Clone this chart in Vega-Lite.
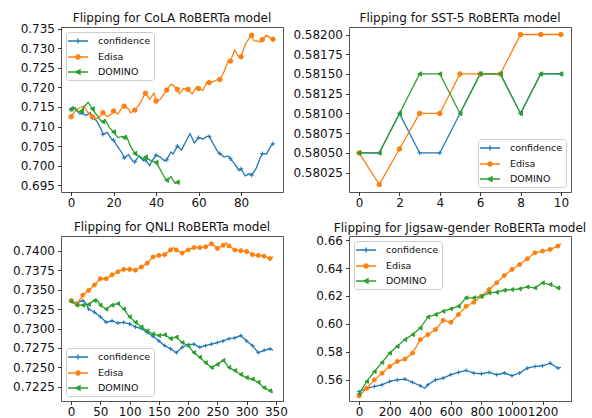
{
  "$schema": "https://vega.github.io/schema/vega-lite/v6.json",
  "padding": {"left": 12, "top": 11, "right": 0, "bottom": 0},
  "autosize": {"type": "pad"},
  "columns": 2,
  "spacing": {"column": 3, "row": 11},
  "config": {
    "font": "DejaVu Sans",
    "background": "white",
    "view": {"stroke": "#555", "strokeWidth": 1},
    "axis": {"grid": false, "domain": false, "tickColor": "#222", "tickSize": 3.5, "tickWidth": 0.9, "labelFontSize": 12, "labelColor": "#111", "labelFont": "DejaVu Sans", "labelFlush": false, "labelOverlap": false},
    "axisX": {"labelPadding": 1.5, "format": "d"},
    "axisY": {"labelPadding": 3},
    "title": {"fontSize": 12, "fontWeight": "normal", "font": "DejaVu Sans", "color": "#111", "anchor": "middle"},
    "legend": {"title": null, "fillColor": "rgba(255,255,255,0.85)", "strokeColor": "#cccccc", "cornerRadius": 3, "padding": 3, "labelFontSize": 9.5, "labelFont": "DejaVu Sans", "labelColor": "#111", "symbolSize": 100, "symbolStrokeWidth": 1.3, "symbolOffset": 3, "labelOffset": 14, "rowPadding": 4, "offset": 5}
  },
  "datasets": {
    "cola": [
      {"m":"confidence","x":0,"y":0.7142},{"m":"confidence","x":2,"y":0.7148},{"m":"confidence","x":4,"y":0.7132},{"m":"confidence","x":5,"y":0.7135},{"m":"confidence","x":7,"y":0.7128},{"m":"confidence","x":9,"y":0.7135},{"m":"confidence","x":10,"y":0.7122},{"m":"confidence","x":12,"y":0.7115},{"m":"confidence","x":14,"y":0.7095},{"m":"confidence","x":15,"y":0.7080},{"m":"confidence","x":17,"y":0.7085},{"m":"confidence","x":19,"y":0.7068},{"m":"confidence","x":20,"y":0.7065},{"m":"confidence","x":22,"y":0.7048},{"m":"confidence","x":24,"y":0.7032},{"m":"confidence","x":25,"y":0.7020},{"m":"confidence","x":27,"y":0.7028},{"m":"confidence","x":29,"y":0.7012},{"m":"confidence","x":30,"y":0.7010},{"m":"confidence","x":32,"y":0.7025},{"m":"confidence","x":34,"y":0.7013},{"m":"confidence","x":35,"y":0.7015},{"m":"confidence","x":37,"y":0.7000},{"m":"confidence","x":38,"y":0.7012},{"m":"confidence","x":40,"y":0.7027},{"m":"confidence","x":42,"y":0.7022},{"m":"confidence","x":44,"y":0.7012},{"m":"confidence","x":45,"y":0.7015},{"m":"confidence","x":47,"y":0.7035},{"m":"confidence","x":48,"y":0.7030},{"m":"confidence","x":50,"y":0.7050},{"m":"confidence","x":52,"y":0.7040},{"m":"confidence","x":54,"y":0.7062},{"m":"confidence","x":56,"y":0.7082},{"m":"confidence","x":58,"y":0.7058},{"m":"confidence","x":60,"y":0.7072},{"m":"confidence","x":62,"y":0.7068},{"m":"confidence","x":64,"y":0.7075},{"m":"confidence","x":65,"y":0.7075},{"m":"confidence","x":67,"y":0.7055},{"m":"confidence","x":69,"y":0.7036},{"m":"confidence","x":70,"y":0.7031},{"m":"confidence","x":72,"y":0.7022},{"m":"confidence","x":74,"y":0.7025},{"m":"confidence","x":75,"y":0.7018},{"m":"confidence","x":77,"y":0.7005},{"m":"confidence","x":79,"y":0.6988},{"m":"confidence","x":80,"y":0.6992},{"m":"confidence","x":82,"y":0.6974},{"m":"confidence","x":84,"y":0.6980},{"m":"confidence","x":85,"y":0.6976},{"m":"confidence","x":87,"y":0.6992},{"m":"confidence","x":89,"y":0.7020},{"m":"confidence","x":90,"y":0.7031},{"m":"confidence","x":92,"y":0.7030},{"m":"confidence","x":94,"y":0.7050},{"m":"confidence","x":95,"y":0.7056},
      {"m":"Edisa","x":0,"y":0.7125},{"m":"Edisa","x":2,"y":0.7140},{"m":"Edisa","x":4,"y":0.7148},{"m":"Edisa","x":6,"y":0.7152},{"m":"Edisa","x":8,"y":0.7135},{"m":"Edisa","x":10,"y":0.7125},{"m":"Edisa","x":12,"y":0.7120},{"m":"Edisa","x":14,"y":0.7128},{"m":"Edisa","x":15,"y":0.7135},{"m":"Edisa","x":17,"y":0.7125},{"m":"Edisa","x":19,"y":0.7132},{"m":"Edisa","x":20,"y":0.7140},{"m":"Edisa","x":22,"y":0.7132},{"m":"Edisa","x":24,"y":0.7148},{"m":"Edisa","x":25,"y":0.7152},{"m":"Edisa","x":27,"y":0.7145},{"m":"Edisa","x":28,"y":0.7135},{"m":"Edisa","x":30,"y":0.7142},{"m":"Edisa","x":32,"y":0.7155},{"m":"Edisa","x":34,"y":0.7175},{"m":"Edisa","x":35,"y":0.7185},{"m":"Edisa","x":37,"y":0.7170},{"m":"Edisa","x":39,"y":0.7185},{"m":"Edisa","x":40,"y":0.7165},{"m":"Edisa","x":42,"y":0.7170},{"m":"Edisa","x":44,"y":0.7185},{"m":"Edisa","x":45,"y":0.7193},{"m":"Edisa","x":47,"y":0.7208},{"m":"Edisa","x":48,"y":0.7205},{"m":"Edisa","x":50,"y":0.7195},{"m":"Edisa","x":51,"y":0.7184},{"m":"Edisa","x":53,"y":0.7197},{"m":"Edisa","x":55,"y":0.7195},{"m":"Edisa","x":57,"y":0.7183},{"m":"Edisa","x":59,"y":0.7201},{"m":"Edisa","x":60,"y":0.7197},{"m":"Edisa","x":62,"y":0.7192},{"m":"Edisa","x":64,"y":0.7214},{"m":"Edisa","x":65,"y":0.7212},{"m":"Edisa","x":67,"y":0.7215},{"m":"Edisa","x":69,"y":0.7220},{"m":"Edisa","x":70,"y":0.7220},{"m":"Edisa","x":72,"y":0.7240},{"m":"Edisa","x":74,"y":0.7268},{"m":"Edisa","x":75,"y":0.7267},{"m":"Edisa","x":77,"y":0.7295},{"m":"Edisa","x":79,"y":0.7278},{"m":"Edisa","x":80,"y":0.7278},{"m":"Edisa","x":82,"y":0.7310},{"m":"Edisa","x":84,"y":0.7327},{"m":"Edisa","x":85,"y":0.7333},{"m":"Edisa","x":86,"y":0.7319},{"m":"Edisa","x":88,"y":0.7318},{"m":"Edisa","x":89,"y":0.7316},{"m":"Edisa","x":90,"y":0.7322},{"m":"Edisa","x":92,"y":0.7333},{"m":"Edisa","x":94,"y":0.7325},{"m":"Edisa","x":95,"y":0.7323},
      {"m":"DOMINO","x":0,"y":0.7145},{"m":"DOMINO","x":1,"y":0.7150},{"m":"DOMINO","x":3,"y":0.7138},{"m":"DOMINO","x":5,"y":0.7140},{"m":"DOMINO","x":6,"y":0.7150},{"m":"DOMINO","x":8,"y":0.7162},{"m":"DOMINO","x":10,"y":0.7145},{"m":"DOMINO","x":12,"y":0.7130},{"m":"DOMINO","x":14,"y":0.7115},{"m":"DOMINO","x":15,"y":0.7112},{"m":"DOMINO","x":16,"y":0.7118},{"m":"DOMINO","x":18,"y":0.7098},{"m":"DOMINO","x":20,"y":0.7086},{"m":"DOMINO","x":22,"y":0.7072},{"m":"DOMINO","x":24,"y":0.7075},{"m":"DOMINO","x":25,"y":0.7072},{"m":"DOMINO","x":26,"y":0.7076},{"m":"DOMINO","x":28,"y":0.7050},{"m":"DOMINO","x":30,"y":0.7031},{"m":"DOMINO","x":32,"y":0.7025},{"m":"DOMINO","x":34,"y":0.7018},{"m":"DOMINO","x":35,"y":0.7022},{"m":"DOMINO","x":36,"y":0.7018},{"m":"DOMINO","x":38,"y":0.7012},{"m":"DOMINO","x":40,"y":0.7008},{"m":"DOMINO","x":42,"y":0.6990},{"m":"DOMINO","x":44,"y":0.6970},{"m":"DOMINO","x":45,"y":0.6963},{"m":"DOMINO","x":47,"y":0.6972},{"m":"DOMINO","x":49,"y":0.6955},{"m":"DOMINO","x":50,"y":0.6958}
    ],
    "sst": [
      {"m":"confidence","x":0,"y":0.5805},{"m":"confidence","x":1,"y":0.5805},{"m":"confidence","x":2,"y":0.5810},{"m":"confidence","x":3,"y":0.5805},{"m":"confidence","x":4,"y":0.5805},{"m":"confidence","x":5,"y":0.5810},{"m":"confidence","x":6,"y":0.5815},{"m":"confidence","x":7,"y":0.5815},{"m":"confidence","x":8,"y":0.5810},{"m":"confidence","x":9,"y":0.5815},{"m":"confidence","x":10,"y":0.5815},
      {"m":"Edisa","x":0,"y":0.5805},{"m":"Edisa","x":1,"y":0.5801},{"m":"Edisa","x":2,"y":0.58055},{"m":"Edisa","x":3,"y":0.5810},{"m":"Edisa","x":4,"y":0.5810},{"m":"Edisa","x":5,"y":0.5815},{"m":"Edisa","x":6,"y":0.5815},{"m":"Edisa","x":7,"y":0.5815},{"m":"Edisa","x":8,"y":0.5820},{"m":"Edisa","x":9,"y":0.5820},{"m":"Edisa","x":10,"y":0.5820},
      {"m":"DOMINO","x":0,"y":0.5805},{"m":"DOMINO","x":1,"y":0.5805},{"m":"DOMINO","x":2,"y":0.5810},{"m":"DOMINO","x":3,"y":0.5815},{"m":"DOMINO","x":4,"y":0.5815},{"m":"DOMINO","x":5,"y":0.5810},{"m":"DOMINO","x":6,"y":0.5815},{"m":"DOMINO","x":7,"y":0.5815},{"m":"DOMINO","x":8,"y":0.5810},{"m":"DOMINO","x":9,"y":0.5815},{"m":"DOMINO","x":10,"y":0.5815}
    ],
    "qnli": [
      {"m":"confidence","x":0,"y":0.7335},{"m":"confidence","x":10,"y":0.7333},{"m":"confidence","x":20,"y":0.7336},{"m":"confidence","x":25,"y":0.7333},{"m":"confidence","x":30,"y":0.7325},{"m":"confidence","x":40,"y":0.7321},{"m":"confidence","x":50,"y":0.7315},{"m":"confidence","x":60,"y":0.7308},{"m":"confidence","x":70,"y":0.7310},{"m":"confidence","x":80,"y":0.7307},{"m":"confidence","x":90,"y":0.7308},{"m":"confidence","x":100,"y":0.7306},{"m":"confidence","x":110,"y":0.7302},{"m":"confidence","x":120,"y":0.7300},{"m":"confidence","x":130,"y":0.7295},{"m":"confidence","x":140,"y":0.7290},{"m":"confidence","x":150,"y":0.7284},{"m":"confidence","x":160,"y":0.7278},{"m":"confidence","x":170,"y":0.7274},{"m":"confidence","x":180,"y":0.7269},{"m":"confidence","x":190,"y":0.7276},{"m":"confidence","x":200,"y":0.7279},{"m":"confidence","x":210,"y":0.7280},{"m":"confidence","x":220,"y":0.7276},{"m":"confidence","x":230,"y":0.7278},{"m":"confidence","x":240,"y":0.7280},{"m":"confidence","x":250,"y":0.7282},{"m":"confidence","x":260,"y":0.7284},{"m":"confidence","x":270,"y":0.7287},{"m":"confidence","x":280,"y":0.7288},{"m":"confidence","x":290,"y":0.7291},{"m":"confidence","x":300,"y":0.7284},{"m":"confidence","x":310,"y":0.7278},{"m":"confidence","x":320,"y":0.7269},{"m":"confidence","x":330,"y":0.7272},{"m":"confidence","x":340,"y":0.7274},{"m":"confidence","x":345,"y":0.7272},
      {"m":"Edisa","x":0,"y":0.7336},{"m":"Edisa","x":10,"y":0.7331},{"m":"Edisa","x":20,"y":0.7343},{"m":"Edisa","x":30,"y":0.7349},{"m":"Edisa","x":40,"y":0.7356},{"m":"Edisa","x":50,"y":0.7364},{"m":"Edisa","x":60,"y":0.7364},{"m":"Edisa","x":70,"y":0.7369},{"m":"Edisa","x":80,"y":0.7373},{"m":"Edisa","x":90,"y":0.7376},{"m":"Edisa","x":100,"y":0.7376},{"m":"Edisa","x":110,"y":0.7375},{"m":"Edisa","x":120,"y":0.7379},{"m":"Edisa","x":130,"y":0.7384},{"m":"Edisa","x":140,"y":0.7392},{"m":"Edisa","x":150,"y":0.7394},{"m":"Edisa","x":160,"y":0.7395},{"m":"Edisa","x":170,"y":0.7401},{"m":"Edisa","x":175,"y":0.7404},{"m":"Edisa","x":180,"y":0.7401},{"m":"Edisa","x":190,"y":0.7397},{"m":"Edisa","x":200,"y":0.7401},{"m":"Edisa","x":210,"y":0.7404},{"m":"Edisa","x":220,"y":0.7404},{"m":"Edisa","x":230,"y":0.7405},{"m":"Edisa","x":240,"y":0.7409},{"m":"Edisa","x":250,"y":0.7403},{"m":"Edisa","x":260,"y":0.7407},{"m":"Edisa","x":265,"y":0.7410},{"m":"Edisa","x":270,"y":0.7406},{"m":"Edisa","x":280,"y":0.7401},{"m":"Edisa","x":290,"y":0.7400},{"m":"Edisa","x":300,"y":0.7399},{"m":"Edisa","x":310,"y":0.7395},{"m":"Edisa","x":320,"y":0.7394},{"m":"Edisa","x":330,"y":0.7393},{"m":"Edisa","x":340,"y":0.7390},{"m":"Edisa","x":345,"y":0.7392},
      {"m":"DOMINO","x":0,"y":0.7335},{"m":"DOMINO","x":10,"y":0.7330},{"m":"DOMINO","x":20,"y":0.7330},{"m":"DOMINO","x":30,"y":0.7331},{"m":"DOMINO","x":40,"y":0.7336},{"m":"DOMINO","x":45,"y":0.7336},{"m":"DOMINO","x":50,"y":0.7330},{"m":"DOMINO","x":60,"y":0.7325},{"m":"DOMINO","x":70,"y":0.7330},{"m":"DOMINO","x":80,"y":0.7332},{"m":"DOMINO","x":90,"y":0.7325},{"m":"DOMINO","x":100,"y":0.7315},{"m":"DOMINO","x":110,"y":0.7308},{"m":"DOMINO","x":120,"y":0.7302},{"m":"DOMINO","x":130,"y":0.7297},{"m":"DOMINO","x":140,"y":0.7293},{"m":"DOMINO","x":150,"y":0.7291},{"m":"DOMINO","x":160,"y":0.7292},{"m":"DOMINO","x":170,"y":0.7287},{"m":"DOMINO","x":180,"y":0.7289},{"m":"DOMINO","x":190,"y":0.7282},{"m":"DOMINO","x":200,"y":0.7278},{"m":"DOMINO","x":210,"y":0.7269},{"m":"DOMINO","x":220,"y":0.7263},{"m":"DOMINO","x":230,"y":0.7256},{"m":"DOMINO","x":240,"y":0.7250},{"m":"DOMINO","x":250,"y":0.7254},{"m":"DOMINO","x":260,"y":0.7259},{"m":"DOMINO","x":270,"y":0.7250},{"m":"DOMINO","x":280,"y":0.7246},{"m":"DOMINO","x":290,"y":0.7241},{"m":"DOMINO","x":300,"y":0.7237},{"m":"DOMINO","x":310,"y":0.7235},{"m":"DOMINO","x":320,"y":0.7231},{"m":"DOMINO","x":330,"y":0.7224},{"m":"DOMINO","x":340,"y":0.7220},{"m":"DOMINO","x":345,"y":0.7218}
    ],
    "jig": [
      {"m":"confidence","x":0,"y":0.5517},{"m":"confidence","x":50,"y":0.5540},{"m":"confidence","x":100,"y":0.5553},{"m":"confidence","x":150,"y":0.5565},{"m":"confidence","x":200,"y":0.5589},{"m":"confidence","x":250,"y":0.5600},{"m":"confidence","x":300,"y":0.5606},{"m":"confidence","x":350,"y":0.5582},{"m":"confidence","x":400,"y":0.5558},{"m":"confidence","x":430,"y":0.5540},{"m":"confidence","x":450,"y":0.5565},{"m":"confidence","x":500,"y":0.5600},{"m":"confidence","x":550,"y":0.5613},{"m":"confidence","x":600,"y":0.5637},{"m":"confidence","x":650,"y":0.5654},{"m":"confidence","x":700,"y":0.5668},{"m":"confidence","x":750,"y":0.5649},{"m":"confidence","x":800,"y":0.5644},{"m":"confidence","x":850,"y":0.5654},{"m":"confidence","x":900,"y":0.5637},{"m":"confidence","x":950,"y":0.5649},{"m":"confidence","x":1000,"y":0.5630},{"m":"confidence","x":1050,"y":0.5649},{"m":"confidence","x":1100,"y":0.5684},{"m":"confidence","x":1150,"y":0.5696},{"m":"confidence","x":1200,"y":0.5701},{"m":"confidence","x":1250,"y":0.5720},{"m":"confidence","x":1300,"y":0.5684},{"m":"confidence","x":1320,"y":0.5689},
      {"m":"Edisa","x":0,"y":0.5485},{"m":"Edisa","x":50,"y":0.5540},{"m":"Edisa","x":100,"y":0.5600},{"m":"Edisa","x":150,"y":0.5648},{"m":"Edisa","x":200,"y":0.5696},{"m":"Edisa","x":250,"y":0.5732},{"m":"Edisa","x":300,"y":0.5749},{"m":"Edisa","x":350,"y":0.5792},{"m":"Edisa","x":400,"y":0.5888},{"m":"Edisa","x":450,"y":0.5924},{"m":"Edisa","x":500,"y":0.5960},{"m":"Edisa","x":550,"y":0.6026},{"m":"Edisa","x":600,"y":0.6012},{"m":"Edisa","x":650,"y":0.6067},{"m":"Edisa","x":700,"y":0.6127},{"m":"Edisa","x":750,"y":0.6155},{"m":"Edisa","x":800,"y":0.6198},{"m":"Edisa","x":850,"y":0.6246},{"m":"Edisa","x":900,"y":0.6294},{"m":"Edisa","x":950,"y":0.6347},{"m":"Edisa","x":1000,"y":0.6390},{"m":"Edisa","x":1050,"y":0.6425},{"m":"Edisa","x":1100,"y":0.6466},{"m":"Edisa","x":1150,"y":0.6509},{"m":"Edisa","x":1200,"y":0.6521},{"m":"Edisa","x":1250,"y":0.6533},{"m":"Edisa","x":1300,"y":0.6557},{"m":"Edisa","x":1320,"y":0.6574},
      {"m":"DOMINO","x":0,"y":0.5500},{"m":"DOMINO","x":50,"y":0.5589},{"m":"DOMINO","x":100,"y":0.5660},{"m":"DOMINO","x":150,"y":0.5725},{"m":"DOMINO","x":200,"y":0.5792},{"m":"DOMINO","x":250,"y":0.5840},{"m":"DOMINO","x":300,"y":0.5888},{"m":"DOMINO","x":350,"y":0.5924},{"m":"DOMINO","x":400,"y":0.5971},{"m":"DOMINO","x":450,"y":0.6050},{"m":"DOMINO","x":500,"y":0.6067},{"m":"DOMINO","x":550,"y":0.6091},{"m":"DOMINO","x":600,"y":0.6108},{"m":"DOMINO","x":650,"y":0.6127},{"m":"DOMINO","x":700,"y":0.6187},{"m":"DOMINO","x":750,"y":0.6187},{"m":"DOMINO","x":800,"y":0.6198},{"m":"DOMINO","x":850,"y":0.6222},{"m":"DOMINO","x":900,"y":0.6227},{"m":"DOMINO","x":950,"y":0.6241},{"m":"DOMINO","x":1000,"y":0.6246},{"m":"DOMINO","x":1050,"y":0.6251},{"m":"DOMINO","x":1100,"y":0.6265},{"m":"DOMINO","x":1150,"y":0.6258},{"m":"DOMINO","x":1200,"y":0.6294},{"m":"DOMINO","x":1250,"y":0.6282},{"m":"DOMINO","x":1300,"y":0.6258},{"m":"DOMINO","x":1320,"y":0.6258}
    ]
  },
  "concat": [
    {
      "width": 222, "height": 165,
      "title": {"text": "Flipping for CoLA RoBERTa model", "offset": -2.8},
      "data": {"name": "cola"},
      "encoding": {
        "x": {"field": "x", "type": "quantitative", "title": null, "scale": {"domain": [-4.75, 99.75], "nice": false, "zero": false}, "axis": {"values": [0, 20, 40, 60, 80]}},
        "y": {"field": "y", "type": "quantitative", "title": null, "scale": {"domain": [0.6933, 0.7354], "nice": false, "zero": false}, "axis": {"values": [0.695, 0.700, 0.705, 0.710, 0.715, 0.720, 0.725, 0.730, 0.735], "format": ".3f", "minExtent": 47, "maxExtent": 47}}
      },
      "layer": [
        {"mark": {"type": "line", "strokeWidth": 1.3}, "encoding": {"color": {"field": "m", "type": "nominal", "scale": {"domain": ["confidence", "Edisa", "DOMINO"], "range": ["#1f77b4", "#ff7f0e", "#2ca02c"]}, "legend": {"orient": "top-left", "offset": 5, "encode": {"symbols": {"update": {"shape": {"signal": "datum.value === 'confidence' ? 'M-2,0H2M0,-0.5V0.5M-0.5,0H0.5' : datum.value === 'Edisa' ? 'M-2,0H2M-0.4,0A0.4,0.4,0,1,1,0.4,0A0.4,0.4,0,1,1,-0.4,0Z' : 'M-2,0H2M-0.5,0L0.4,-0.45L0.4,0.45Z'"}, "fill": {"signal": "datum.value === 'confidence' ? 'transparent' : datum.value === 'Edisa' ? '#ff7f0e' : '#2ca02c'"}, "stroke": {"signal": "datum.value === 'confidence' ? '#1f77b4' : datum.value === 'Edisa' ? '#ff7f0e' : '#2ca02c'"}, "opacity": {"value": 1}}}}}}}},
        {"transform": [{"filter": "datum.x % 5 == 0"}], "mark": {"type": "point", "size": 20, "strokeWidth": 1, "opacity": 1}, "encoding": {
          "fill": {"field": "m", "type": "nominal", "scale": {"domain": ["confidence", "Edisa", "DOMINO"], "range": ["#1f77b4", "#ff7f0e", "#2ca02c"]}, "legend": null},
          "stroke": {"field": "m", "type": "nominal", "scale": {"domain": ["confidence", "Edisa", "DOMINO"], "range": ["#1f77b4", "#ff7f0e", "#2ca02c"]}, "legend": null},
          "shape": {"field": "m", "type": "nominal", "scale": {"domain": ["confidence", "Edisa", "DOMINO"], "range": ["M-1,0H1M0,-1V1", "circle", "triangle-left"]}, "legend": null}}}
      ]
    },
    {
      "width": 222, "height": 165,
      "title": {"text": "Flipping for SST-5 RoBERTa model", "offset": 2},
      "data": {"name": "sst"},
      "encoding": {
        "x": {"field": "x", "type": "quantitative", "title": null, "scale": {"domain": [-0.5, 10.5], "nice": false, "zero": false}, "axis": {"values": [0, 2, 4, 6, 8, 10]}},
        "y": {"field": "y", "type": "quantitative", "title": null, "scale": {"domain": [0.580005, 0.582095], "nice": false, "zero": false}, "axis": {"values": [0.58025, 0.5805, 0.58075, 0.581, 0.58125, 0.5815, 0.58175, 0.582], "format": ".5f", "minExtent": 57, "maxExtent": 57}}
      },
      "layer": [
        {"mark": {"type": "line", "strokeWidth": 1.3}, "encoding": {"color": {"field": "m", "type": "nominal", "scale": {"domain": ["confidence", "Edisa", "DOMINO"], "range": ["#1f77b4", "#ff7f0e", "#2ca02c"]}, "legend": {"orient": "bottom-right", "offset": 5, "encode": {"symbols": {"update": {"shape": {"signal": "datum.value === 'confidence' ? 'M-2,0H2M0,-0.5V0.5M-0.5,0H0.5' : datum.value === 'Edisa' ? 'M-2,0H2M-0.4,0A0.4,0.4,0,1,1,0.4,0A0.4,0.4,0,1,1,-0.4,0Z' : 'M-2,0H2M-0.5,0L0.4,-0.45L0.4,0.45Z'"}, "fill": {"signal": "datum.value === 'confidence' ? 'transparent' : datum.value === 'Edisa' ? '#ff7f0e' : '#2ca02c'"}, "stroke": {"signal": "datum.value === 'confidence' ? '#1f77b4' : datum.value === 'Edisa' ? '#ff7f0e' : '#2ca02c'"}, "opacity": {"value": 1}}}}}}}},
        {"mark": {"type": "point", "size": 20, "strokeWidth": 1, "opacity": 1}, "encoding": {
          "fill": {"field": "m", "type": "nominal", "scale": {"domain": ["confidence", "Edisa", "DOMINO"], "range": ["#1f77b4", "#ff7f0e", "#2ca02c"]}, "legend": null},
          "stroke": {"field": "m", "type": "nominal", "scale": {"domain": ["confidence", "Edisa", "DOMINO"], "range": ["#1f77b4", "#ff7f0e", "#2ca02c"]}, "legend": null},
          "shape": {"field": "m", "type": "nominal", "scale": {"domain": ["confidence", "Edisa", "DOMINO"], "range": ["M-1,0H1M0,-1V1", "circle", "triangle-left"]}, "legend": null}}}
      ]
    },
    {
      "width": 222, "height": 165,
      "title": {"text": "Flipping for QNLI RoBERTa model", "offset": 2},
      "data": {"name": "qnli"},
      "encoding": {
        "x": {"field": "x", "type": "quantitative", "title": null, "scale": {"domain": [-17.25, 362.25], "nice": false, "zero": false}, "axis": {"values": [0, 50, 100, 150, 200, 250, 300, 350]}},
        "y": {"field": "y", "type": "quantitative", "title": null, "scale": {"domain": [0.72069, 0.74189], "nice": false, "zero": false}, "axis": {"values": [0.7225, 0.725, 0.7275, 0.73, 0.7325, 0.735, 0.7375, 0.74], "format": ".4f", "minExtent": 47, "maxExtent": 47}}
      },
      "layer": [
        {"mark": {"type": "line", "strokeWidth": 1.3}, "encoding": {"color": {"field": "m", "type": "nominal", "scale": {"domain": ["confidence", "Edisa", "DOMINO"], "range": ["#1f77b4", "#ff7f0e", "#2ca02c"]}, "legend": {"orient": "bottom-left", "offset": 5, "encode": {"symbols": {"update": {"shape": {"signal": "datum.value === 'confidence' ? 'M-2,0H2M0,-0.5V0.5M-0.5,0H0.5' : datum.value === 'Edisa' ? 'M-2,0H2M-0.4,0A0.4,0.4,0,1,1,0.4,0A0.4,0.4,0,1,1,-0.4,0Z' : 'M-2,0H2M-0.5,0L0.4,-0.45L0.4,0.45Z'"}, "fill": {"signal": "datum.value === 'confidence' ? 'transparent' : datum.value === 'Edisa' ? '#ff7f0e' : '#2ca02c'"}, "stroke": {"signal": "datum.value === 'confidence' ? '#1f77b4' : datum.value === 'Edisa' ? '#ff7f0e' : '#2ca02c'"}, "opacity": {"value": 1}}}}}}}},
        {"transform": [{"filter": "datum.x % 10 == 0"}], "mark": {"type": "point", "size": 16, "strokeWidth": 1, "opacity": 1}, "encoding": {
          "fill": {"field": "m", "type": "nominal", "scale": {"domain": ["confidence", "Edisa", "DOMINO"], "range": ["#1f77b4", "#ff7f0e", "#2ca02c"]}, "legend": null},
          "stroke": {"field": "m", "type": "nominal", "scale": {"domain": ["confidence", "Edisa", "DOMINO"], "range": ["#1f77b4", "#ff7f0e", "#2ca02c"]}, "legend": null},
          "shape": {"field": "m", "type": "nominal", "scale": {"domain": ["confidence", "Edisa", "DOMINO"], "range": ["M-1,0H1M0,-1V1", "circle", "triangle-left"]}, "legend": null}}}
      ]
    },
    {
      "width": 222, "height": 165,
      "title": {"text": "Flipping for Jigsaw-gender RoBERTa model", "offset": -0.5},
      "data": {"name": "jig"},
      "encoding": {
        "x": {"field": "x", "type": "quantitative", "title": null, "scale": {"domain": [-66, 1386], "nice": false, "zero": false}, "axis": {"values": [0, 200, 400, 600, 800, 1000, 1200]}},
        "y": {"field": "y", "type": "quantitative", "title": null, "scale": {"domain": [0.5449, 0.6629], "nice": false, "zero": false}, "axis": {"values": [0.56, 0.58, 0.60, 0.62, 0.64, 0.66], "format": ".2f", "minExtent": 57, "maxExtent": 57}}
      },
      "layer": [
        {"mark": {"type": "line", "strokeWidth": 1.3}, "encoding": {"color": {"field": "m", "type": "nominal", "scale": {"domain": ["confidence", "Edisa", "DOMINO"], "range": ["#1f77b4", "#ff7f0e", "#2ca02c"]}, "legend": {"orient": "top-left", "offset": 5, "encode": {"symbols": {"update": {"shape": {"signal": "datum.value === 'confidence' ? 'M-2,0H2M0,-0.5V0.5M-0.5,0H0.5' : datum.value === 'Edisa' ? 'M-2,0H2M-0.4,0A0.4,0.4,0,1,1,0.4,0A0.4,0.4,0,1,1,-0.4,0Z' : 'M-2,0H2M-0.5,0L0.4,-0.45L0.4,0.45Z'"}, "fill": {"signal": "datum.value === 'confidence' ? 'transparent' : datum.value === 'Edisa' ? '#ff7f0e' : '#2ca02c'"}, "stroke": {"signal": "datum.value === 'confidence' ? '#1f77b4' : datum.value === 'Edisa' ? '#ff7f0e' : '#2ca02c'"}, "opacity": {"value": 1}}}}}}}},
        {"transform": [{"filter": "datum.x % 50 == 0"}], "mark": {"type": "point", "size": 16, "strokeWidth": 1, "opacity": 1}, "encoding": {
          "fill": {"field": "m", "type": "nominal", "scale": {"domain": ["confidence", "Edisa", "DOMINO"], "range": ["#1f77b4", "#ff7f0e", "#2ca02c"]}, "legend": null},
          "stroke": {"field": "m", "type": "nominal", "scale": {"domain": ["confidence", "Edisa", "DOMINO"], "range": ["#1f77b4", "#ff7f0e", "#2ca02c"]}, "legend": null},
          "shape": {"field": "m", "type": "nominal", "scale": {"domain": ["confidence", "Edisa", "DOMINO"], "range": ["M-1,0H1M0,-1V1", "circle", "triangle-left"]}, "legend": null}}}
      ]
    }
  ],
  "resolve": {"scale": {"color": "independent"}, "legend": {"color": "independent"}}
}
